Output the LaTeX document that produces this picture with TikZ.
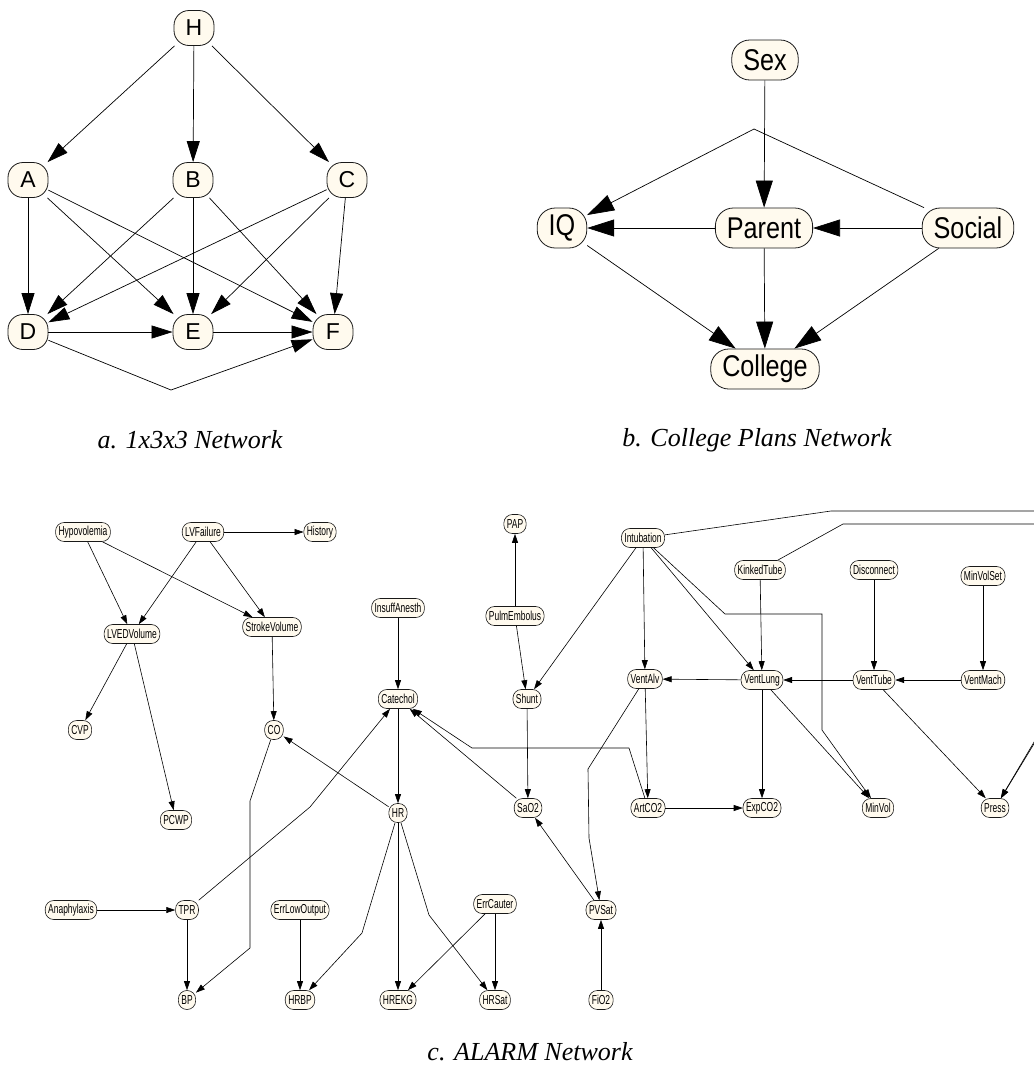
\documentclass[tikz,border=0pt]{standalone}
\usepackage{fontspec}
\setmainfont{Liberation Serif}
\newfontfamily\afont{Liberation Sans}
\newfontfamily\bfontn[FakeStretch=0.84]{Liberation Sans}
\newfontfamily\cfontn[FakeStretch=0.65]{Liberation Sans}
\usetikzlibrary{arrows.meta}
\definecolor{cream}{RGB}{255,250,238}
\begin{document}
\begin{tikzpicture}[x=1pt,y=-1pt,
 nodebase/.style={rectangle, draw=black!90, fill=cream, line width=0.8pt},
 anode/.style={nodebase, rounded corners=15pt, minimum height=35pt, minimum width=40pt, inner sep=0pt, font=\afont\fontsize{23}{23}\selectfont},
 bnode/.style={nodebase, rounded corners=18pt, minimum height=40pt, inner xsep=11.5pt, inner ysep=0pt, font=\bfontn\fontsize{30}{30}\selectfont},
 cnode/.style={nodebase, line width=0.6pt, rounded corners=8.5pt, minimum height=19pt, inner xsep=3pt, inner ysep=0pt, font=\cfontn\fontsize{13}{13}\selectfont},
 aedge/.style={line width=0.7pt, -{Triangle[length=21pt,width=13pt]}},
 bedge/.style={line width=0.7pt, -{Triangle[length=27pt,width=17pt]}},
 cedge/.style={line width=0.6pt, -{Triangle[length=9pt,width=6pt]}},
 captext/.style={font=\fontsize{26}{26}\selectfont\itshape}
]
\clip (0,0) rectangle (1034,1085);
\fill[white] (0,0) rectangle (1034,1085);

% ---------- a. 1x3x3 network ----------
\node[anode] (H) at (194,28) {H};
\node[anode] (A) at (28,180) {A};
\node[anode] (B) at (193,180) {B};
\node[anode] (C) at (347,180) {C};
\node[anode] (D) at (28,332) {D};
\node[anode] (E) at (193,332) {E};
\node[anode] (F) at (333,332) {F};
\coordinate (dfb) at (171,390);
\draw[aedge] (H) -- (A);
\draw[aedge] (H) -- (B);
\draw[aedge] (H) -- (C);
\draw[aedge] (A) -- (D);
\draw[aedge] (A) -- (E);
\draw[aedge] (A) -- (F);
\draw[aedge] (B) -- (D);
\draw[aedge] (B) -- (E);
\draw[aedge] (B) -- (F);
\draw[aedge] (C) -- (D);
\draw[aedge] (C) -- (E);
\draw[aedge] (C) -- (F);
\draw[aedge] (D) -- (E);
\draw[aedge] (E) -- (F);
\draw[aedge] (D) -- (dfb) -- (F);
\node[captext] (capa) at (190,440) {a. 1x3x3 Network};

% ---------- b. College plans ----------
\node[bnode] (Sex) at (765,60) {Sex};
\node[bnode] (IQ) at (562,228) {IQ};
\node[bnode] (Parent) at (764,228) {Parent};
\node[bnode] (Social) at (968,228) {Social};
\node[bnode] (College) at (765,369) {College};
\coordinate (sib) at (754,129);
\draw[bedge] (Sex) -- (Parent);
\draw[bedge] (Social) -- (sib) -- (IQ);
\draw[bedge] (Parent) -- (IQ);
\draw[bedge] (Social) -- (Parent);
\draw[bedge] (IQ) -- (College);
\draw[bedge] (Parent) -- (College);
\draw[bedge] (Social) -- (College);
\node[captext] (capb) at (757,440) {b. College Plans Network};

% ---------- c. ALARM ----------
\node[cnode] (Hypovolemia) at (83,532) {Hypovolemia};
\node[cnode] (LVFailure) at (203,532) {LVFailure};
\node[cnode] (History) at (320,532) {History};
\node[cnode] (LVEDVolume) at (132,634) {LVEDVolume};
\node[cnode] (StrokeVolume) at (272,627) {StrokeVolume};
\node[cnode] (CVP) at (80,730) {CVP};
\node[cnode] (CO) at (274,730) {CO};
\node[cnode] (PCWP) at (176,820) {PCWP};
\node[cnode] (Anaphylaxis) at (71,910) {Anaphylaxis};
\node[cnode] (TPR) at (187,910) {TPR};
\node[cnode] (BP) at (187,1000) {BP};
\node[cnode] (ErrLowOutput) at (300,910) {ErrLowOutput};
\node[cnode] (HRBP) at (300,1000) {HRBP};
\node[cnode] (InsuffAnesth) at (398,608) {InsuffAnesth};
\node[cnode] (Catechol) at (398,699) {Catechol};
\node[cnode] (HR) at (398,813) {HR};
\node[cnode] (HREKG) at (398,1000) {HREKG};
\node[cnode] (ErrCauter) at (495,904) {ErrCauter};
\node[cnode] (HRSat) at (495,1000) {HRSat};
\node[cnode] (PAP) at (515,524) {PAP};
\node[cnode] (PulmEmbolus) at (515,616) {PulmEmbolus};
\node[cnode] (Shunt) at (527,699) {Shunt};
\node[cnode] (SaO2) at (528,808) {SaO2};
\node[cnode] (PVSat) at (601,910) {PVSat};
\node[cnode] (FiO2) at (601,1000) {FiO2};
\node[cnode] (Intubation) at (643,538) {Intubation};
\node[cnode] (VentAlv) at (645,679) {VentAlv};
\node[cnode] (ArtCO2) at (648,808) {ArtCO2};
\node[cnode] (KinkedTube) at (760,570) {KinkedTube};
\node[cnode] (VentLung) at (762,680) {VentLung};
\node[cnode] (ExpCO2) at (762,808) {ExpCO2};
\node[cnode] (Disconnect) at (874,570) {Disconnect};
\node[cnode] (VentTube) at (874,680) {VentTube};
\node[cnode] (MinVol) at (878,808) {MinVol};
\node[cnode] (MinVolSet) at (983,576) {MinVolSet};
\node[cnode] (VentMach) at (983,680) {VentMach};
\node[cnode] (Press) at (995,808) {Press};

\coordinate (cob1) at (250,801);
\coordinate (cob2) at (250,948);
\coordinate (tcb) at (310,807);
\coordinate (acb1) at (629,748);
\coordinate (acb2) at (472,748);
\coordinate (hbb) at (362,933);
\coordinate (hsb) at (429,915);
\coordinate (imb1) at (725,614);
\coordinate (imb2) at (822,614);
\coordinate (imb3) at (822,730);
\coordinate (ipb1) at (831,511);
\coordinate (ipb2) at (1046,511);
\coordinate (ipb3) at (1046,724);
\coordinate (kpb1) at (843,524);
\coordinate (kpb2) at (1040,524);
\coordinate (kpb3) at (1040,732);
\coordinate (vpb1) at (588,769);
\coordinate (vpb2) at (589,838);

\draw[cedge] (Hypovolemia) -- (LVEDVolume);
\draw[cedge] (Hypovolemia) -- (StrokeVolume);
\draw[cedge] (LVFailure) -- (LVEDVolume);
\draw[cedge] (LVFailure) -- (StrokeVolume);
\draw[cedge] (LVFailure) -- (History);
\draw[cedge] (LVEDVolume) -- (CVP);
\draw[cedge] (LVEDVolume) -- (PCWP);
\draw[cedge] (StrokeVolume) -- (CO);
\draw[cedge] (CO) -- (cob1) -- (cob2) -- (BP);
\draw[cedge] (HR) -- (CO);
\draw[cedge] (Anaphylaxis) -- (TPR);
\draw[cedge] (TPR) -- (BP);
\draw[cedge] (TPR) -- (tcb) -- (Catechol);
\draw[cedge] (InsuffAnesth) -- (Catechol);
\draw[cedge] (Catechol) -- (HR);
\draw[cedge] (SaO2) -- (Catechol);
\draw[cedge] (ArtCO2) -- (acb1) -- (acb2) -- (Catechol);
\draw[cedge] (HR) -- (hbb) -- (HRBP);
\draw[cedge] (ErrLowOutput) -- (HRBP);
\draw[cedge] (HR) -- (HREKG);
\draw[cedge] (HR) -- (hsb) -- (HRSat);
\draw[cedge] (ErrCauter) -- (HREKG);
\draw[cedge] (ErrCauter) -- (HRSat);
\draw[cedge] (PulmEmbolus) -- (PAP);
\draw[cedge] (PulmEmbolus) -- (Shunt);
\draw[cedge] (Shunt) -- (SaO2);
\draw[cedge] (PVSat) -- (SaO2);
\draw[cedge] (FiO2) -- (PVSat);
\draw[cedge] (Intubation) -- (Shunt);
\draw[cedge] (Intubation) -- (VentAlv);
\draw[cedge] (Intubation) -- (VentLung);
\draw[cedge] (Intubation) -- (imb1) -- (imb2) -- (imb3) -- (MinVol);
\draw[cedge] (Intubation) -- (ipb1) -- (ipb2) -- (ipb3) -- (Press);
\draw[cedge] (KinkedTube) -- (kpb1) -- (kpb2) -- (kpb3) -- (Press);
\draw[cedge] (KinkedTube) -- (VentLung);
\draw[cedge] (Disconnect) -- (VentTube);
\draw[cedge] (MinVolSet) -- (VentMach);
\draw[cedge] (VentMach) -- (VentTube);
\draw[cedge] (VentTube) -- (VentLung);
\draw[cedge] (VentLung) -- (VentAlv);
\draw[cedge] (VentLung) -- (ExpCO2);
\draw[cedge] (VentLung) -- (MinVol);
\draw[cedge] (VentTube) -- (Press);
\draw[cedge] (VentAlv) -- (ArtCO2);
\draw[cedge] (VentAlv) -- (vpb1) -- (vpb2) -- (PVSat);
\draw[cedge] (ArtCO2) -- (ExpCO2);
\node[captext] (capc) at (530,1052) {c. ALARM Network};
\end{tikzpicture}
\end{document}
